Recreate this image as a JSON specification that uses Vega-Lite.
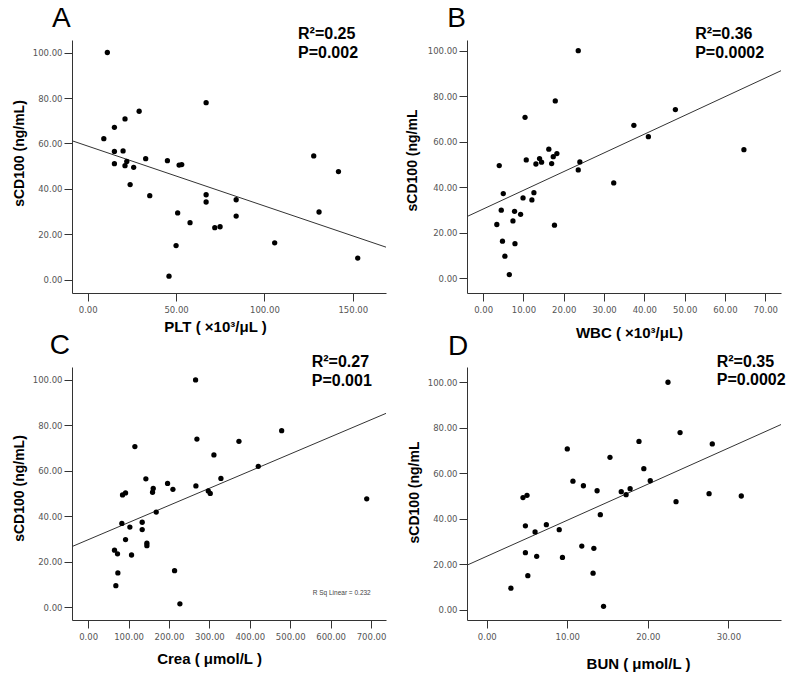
{
  "$schema": "https://vega.github.io/schema/vega-lite/v6.json",
  "background": "white",
  "padding": {"left": 12, "top": 5, "right": 5, "bottom": 5},
  "autosize": {"type": "pad"},
  "datasets": {
    "A": [
      {"x": 11.1, "y": 100.1}, {"x": 9.1, "y": 62.1}, {"x": 15.1, "y": 67.1}, {"x": 21.1, "y": 70.8},
      {"x": 29.1, "y": 74.2}, {"x": 15.1, "y": 56.5}, {"x": 20.0, "y": 56.7}, {"x": 15.1, "y": 51.1},
      {"x": 22.1, "y": 52.1}, {"x": 21.1, "y": 50.2}, {"x": 26.0, "y": 49.5}, {"x": 24.0, "y": 41.9},
      {"x": 32.8, "y": 53.3}, {"x": 35.1, "y": 37.0}, {"x": 45.1, "y": 52.4}, {"x": 51.7, "y": 50.5},
      {"x": 53.2, "y": 50.7}, {"x": 67.0, "y": 78.0}, {"x": 67.0, "y": 37.4}, {"x": 67.0, "y": 34.2},
      {"x": 50.9, "y": 29.4}, {"x": 57.9, "y": 25.1}, {"x": 71.9, "y": 22.9}, {"x": 74.9, "y": 23.3},
      {"x": 84.0, "y": 35.2}, {"x": 84.0, "y": 28.0}, {"x": 50.0, "y": 15.0}, {"x": 46.0, "y": 1.5},
      {"x": 105.8, "y": 16.2}, {"x": 127.9, "y": 54.5}, {"x": 141.9, "y": 47.6}, {"x": 130.9, "y": 29.8},
      {"x": 152.8, "y": 9.5}
    ],
    "B": [
      {"x": 23.6, "y": 100.0}, {"x": 17.9, "y": 77.9}, {"x": 10.4, "y": 70.7}, {"x": 47.7, "y": 74.1},
      {"x": 37.4, "y": 67.2}, {"x": 41.0, "y": 62.2}, {"x": 64.7, "y": 56.5}, {"x": 4.0, "y": 49.5},
      {"x": 10.7, "y": 52.0}, {"x": 13.1, "y": 50.2}, {"x": 14.0, "y": 52.6}, {"x": 14.5, "y": 51.0},
      {"x": 16.3, "y": 56.7}, {"x": 17.0, "y": 50.4}, {"x": 17.4, "y": 53.4}, {"x": 18.3, "y": 54.8},
      {"x": 24.0, "y": 51.1}, {"x": 23.6, "y": 47.6}, {"x": 32.4, "y": 41.9}, {"x": 5.0, "y": 37.2},
      {"x": 12.6, "y": 37.6}, {"x": 9.9, "y": 35.3}, {"x": 12.1, "y": 34.4}, {"x": 4.5, "y": 29.9},
      {"x": 7.8, "y": 29.4}, {"x": 9.3, "y": 28.1}, {"x": 7.4, "y": 25.2}, {"x": 3.4, "y": 23.6},
      {"x": 17.7, "y": 23.3}, {"x": 4.8, "y": 16.3}, {"x": 7.9, "y": 15.2}, {"x": 5.4, "y": 9.7},
      {"x": 6.5, "y": 1.6}
    ],
    "C": [
      {"x": 265.8, "y": 100.0}, {"x": 269.1, "y": 74.0}, {"x": 115.6, "y": 70.7}, {"x": 478.8, "y": 77.7},
      {"x": 373.1, "y": 73.0}, {"x": 311.2, "y": 67.0}, {"x": 421.0, "y": 62.0}, {"x": 689.3, "y": 47.7},
      {"x": 142.8, "y": 56.5}, {"x": 196.5, "y": 54.5}, {"x": 209.7, "y": 51.9}, {"x": 161.0, "y": 52.3},
      {"x": 159.3, "y": 50.6}, {"x": 266.6, "y": 53.4}, {"x": 328.5, "y": 56.7}, {"x": 297.2, "y": 51.2},
      {"x": 302.1, "y": 50.1}, {"x": 92.5, "y": 50.3}, {"x": 85.0, "y": 49.4}, {"x": 168.4, "y": 41.9},
      {"x": 83.4, "y": 36.9}, {"x": 103.2, "y": 35.3}, {"x": 133.7, "y": 37.4}, {"x": 133.7, "y": 34.2},
      {"x": 92.5, "y": 29.8}, {"x": 145.3, "y": 28.2}, {"x": 145.3, "y": 27.1}, {"x": 65.2, "y": 25.1},
      {"x": 72.6, "y": 23.5}, {"x": 107.3, "y": 23.0}, {"x": 73.5, "y": 15.1}, {"x": 213.8, "y": 16.1},
      {"x": 68.5, "y": 9.5}, {"x": 227.0, "y": 1.5}
    ],
    "D": [
      {"x": 22.5, "y": 100.0}, {"x": 24.0, "y": 77.9}, {"x": 10.0, "y": 70.7}, {"x": 18.9, "y": 74.0},
      {"x": 28.0, "y": 72.9}, {"x": 15.3, "y": 67.0}, {"x": 19.5, "y": 62.0}, {"x": 10.7, "y": 56.5},
      {"x": 12.0, "y": 54.5}, {"x": 13.7, "y": 52.3}, {"x": 16.7, "y": 51.9}, {"x": 17.3, "y": 50.6},
      {"x": 17.8, "y": 53.2}, {"x": 20.3, "y": 56.7}, {"x": 23.5, "y": 47.5}, {"x": 27.6, "y": 51.0},
      {"x": 31.6, "y": 50.0}, {"x": 4.5, "y": 49.3}, {"x": 5.0, "y": 50.3}, {"x": 14.1, "y": 41.8},
      {"x": 4.8, "y": 36.9}, {"x": 7.4, "y": 37.4}, {"x": 6.0, "y": 34.2}, {"x": 9.0, "y": 35.2},
      {"x": 11.8, "y": 28.0}, {"x": 13.3, "y": 27.0}, {"x": 4.8, "y": 25.1}, {"x": 6.2, "y": 23.5},
      {"x": 9.4, "y": 23.0}, {"x": 13.2, "y": 16.1}, {"x": 5.1, "y": 15.0}, {"x": 3.0, "y": 9.5},
      {"x": 14.5, "y": 1.5}
    ]
  },
  "columns": 2,
  "spacing": {"row": 74, "column": 81},
  "bounds": "flush",
  "concat": [
    {
      "width": 314, "height": 253,
      "encoding": {
        "x": {"field": "x", "type": "quantitative", "scale": {"domain": [-8.9, 168.8], "nice": false, "zero": false},
              "axis": {"values": [0, 50, 100, 150], "format": ".2f", "title": "PLT ( ×10³/μL )", "titleX": 143, "titlePadding": 6}},
        "y": {"field": "y", "type": "quantitative", "scale": {"domain": [-5.9, 105.6], "nice": false, "zero": false},
              "axis": {"values": [0, 20, 40, 60, 80, 100], "format": ".2f", "title": "sCD100 (ng/mL)", "titleY": 113, "titlePadding": 6}}
      },
      "layer": [
        {"data": {"values": [{"x": -8.9, "y": 61.2, "xe": 168.8, "ye": 14.3}]},
         "mark": {"type": "rule", "color": "#333", "strokeWidth": 1},
         "encoding": {"x2": {"field": "xe"}, "y2": {"field": "ye"}}},
        {"data": {"name": "A"}, "mark": {"type": "point", "filled": true, "color": "#000", "size": 28, "opacity": 1}},
        {"data": {"values": [{"x": -20.2, "y": 111.3, "t": "A"}]},
         "mark": {"type": "text", "align": "left", "baseline": "alphabetic", "fontSize": 28, "font": "Liberation Sans", "color": "#000"},
         "encoding": {"text": {"field": "t"}}},
        {"data": {"values": [{"x": 119, "y": 106.0, "t": "R²=0.25"}, {"x": 119, "y": 97.5, "t": "P=0.002"}]},
         "mark": {"type": "text", "align": "left", "baseline": "alphabetic", "fontSize": 16, "fontWeight": "bold", "font": "Liberation Sans", "color": "#000"},
         "encoding": {"text": {"field": "t"}}}
      ]
    },
    {
      "width": 314, "height": 253,
      "encoding": {
        "x": {"field": "x", "type": "quantitative", "scale": {"domain": [-4.0, 73.9], "nice": false, "zero": false},
              "axis": {"values": [0, 10, 20, 30, 40, 50, 60, 70], "format": ".2f", "title": "WBC  ( ×10³/μL)", "titleX": 162, "titlePadding": 12}},
        "y": {"field": "y", "type": "quantitative", "scale": {"domain": [-6.5, 104.7], "nice": false, "zero": false},
              "axis": {"values": [0, 20, 40, 60, 80, 100], "format": ".2f", "title": "sCD100 (ng/mL", "titleY": 120, "titlePadding": 8}}
      },
      "layer": [
        {"data": {"values": [{"x": -4.0, "y": 27.1, "xe": 73.9, "ye": 91.2}]},
         "mark": {"type": "rule", "color": "#333", "strokeWidth": 1},
         "encoding": {"x2": {"field": "xe"}, "y2": {"field": "ye"}}},
        {"data": {"name": "B"}, "mark": {"type": "point", "filled": true, "color": "#000", "size": 28, "opacity": 1}},
        {"data": {"values": [{"x": -8.9, "y": 110.4, "t": "B"}]},
         "mark": {"type": "text", "align": "left", "baseline": "alphabetic", "fontSize": 28, "font": "Liberation Sans", "color": "#000"},
         "encoding": {"text": {"field": "t"}}},
        {"data": {"values": [{"x": 52.6, "y": 105.0, "t": "R²=0.36"}, {"x": 52.6, "y": 96.8, "t": "P=0.0002"}]},
         "mark": {"type": "text", "align": "left", "baseline": "alphabetic", "fontSize": 16, "fontWeight": "bold", "font": "Liberation Sans", "color": "#000"},
         "encoding": {"text": {"field": "t"}}}
      ]
    },
    {
      "width": 314, "height": 253,
      "encoding": {
        "x": {"field": "x", "type": "quantitative", "scale": {"domain": [-40, 737], "nice": false, "zero": false},
              "axis": {"values": [0, 100, 200, 300, 400, 500, 600, 700], "format": ".2f", "title": "Crea ( μmol/L )", "titleX": 137, "titlePadding": 11}},
        "y": {"field": "y", "type": "quantitative", "scale": {"domain": [-5.6, 105.7], "nice": false, "zero": false},
              "axis": {"values": [0, 20, 40, 60, 80, 100], "format": ".2f", "title": "sCD100 (ng/mL)", "titleY": 121, "titlePadding": 6}}
      },
      "layer": [
        {"data": {"values": [{"x": -40, "y": 26.7, "xe": 737, "ye": 85.3}]},
         "mark": {"type": "rule", "color": "#333", "strokeWidth": 1},
         "encoding": {"x2": {"field": "xe"}, "y2": {"field": "ye"}}},
        {"data": {"name": "C"}, "mark": {"type": "point", "filled": true, "color": "#000", "size": 28, "opacity": 1}},
        {"data": {"values": [{"x": -94.8, "y": 111.4, "t": "C"}]},
         "mark": {"type": "text", "align": "left", "baseline": "alphabetic", "fontSize": 28, "font": "Liberation Sans", "color": "#000"},
         "encoding": {"text": {"field": "t"}}},
        {"data": {"values": [{"x": 553.2, "y": 105.6, "t": "R²=0.27"}, {"x": 553.2, "y": 97.4, "t": "P=0.001"}]},
         "mark": {"type": "text", "align": "left", "baseline": "alphabetic", "fontSize": 16, "fontWeight": "bold", "font": "Liberation Sans", "color": "#000"},
         "encoding": {"text": {"field": "t"}}},
        {"data": {"values": [{"x": 555.7, "y": 5.4, "t": "R Sq Linear = 0.232"}]},
         "mark": {"type": "text", "align": "left", "baseline": "alphabetic", "fontSize": 6.5, "font": "Liberation Sans", "color": "#444"},
         "encoding": {"text": {"field": "t"}}}
      ]
    },
    {
      "width": 314, "height": 253,
      "encoding": {
        "x": {"field": "x", "type": "quantitative", "scale": {"domain": [-2.45, 36.53], "nice": false, "zero": false},
              "axis": {"values": [0, 10, 20, 30], "format": ".2f", "title": "BUN ( μmol/L )", "titleX": 171, "titlePadding": 16}},
        "y": {"field": "y", "type": "quantitative", "scale": {"domain": [-4.5, 106.7], "nice": false, "zero": false},
              "axis": {"values": [0, 20, 40, 60, 80, 100], "format": ".2f", "title": "sCD100 (ng/mL", "titleY": 125, "titlePadding": 6}}
      },
      "layer": [
        {"data": {"values": [{"x": -2.45, "y": 19.6, "xe": 36.53, "ye": 81.4}]},
         "mark": {"type": "rule", "color": "#333", "strokeWidth": 1},
         "encoding": {"x2": {"field": "xe"}, "y2": {"field": "ye"}}},
        {"data": {"name": "D"}, "mark": {"type": "point", "filled": true, "color": "#000", "size": 28, "opacity": 1}},
        {"data": {"values": [{"x": -4.8, "y": 112.0, "t": "D"}]},
         "mark": {"type": "text", "align": "left", "baseline": "alphabetic", "fontSize": 28, "font": "Liberation Sans", "color": "#000"},
         "encoding": {"text": {"field": "t"}}},
        {"data": {"values": [{"x": 28.55, "y": 106.9, "t": "R²=0.35"}, {"x": 28.55, "y": 98.8, "t": "P=0.0002"}]},
         "mark": {"type": "text", "align": "left", "baseline": "alphabetic", "fontSize": 16, "fontWeight": "bold", "font": "Liberation Sans", "color": "#000"},
         "encoding": {"text": {"field": "t"}}}
      ]
    }
  ],
  "config": {
    "view": {"stroke": null},
    "font": "Liberation Sans",
    "axis": {
      "grid": false, "domainColor": "#333", "tickColor": "#333", "tickSize": 8,
      "labelFont": "DejaVu Sans", "labelFontSize": 8.5, "labelColor": "#555", "labelPadding": 2,
      "titleFont": "Liberation Sans", "titleFontSize": 14, "titleFontWeight": "bold", "titleColor": "#000"
    },
    "axisX": {"labelPadding": 4, "titleFontSize": 15}
  }
}
